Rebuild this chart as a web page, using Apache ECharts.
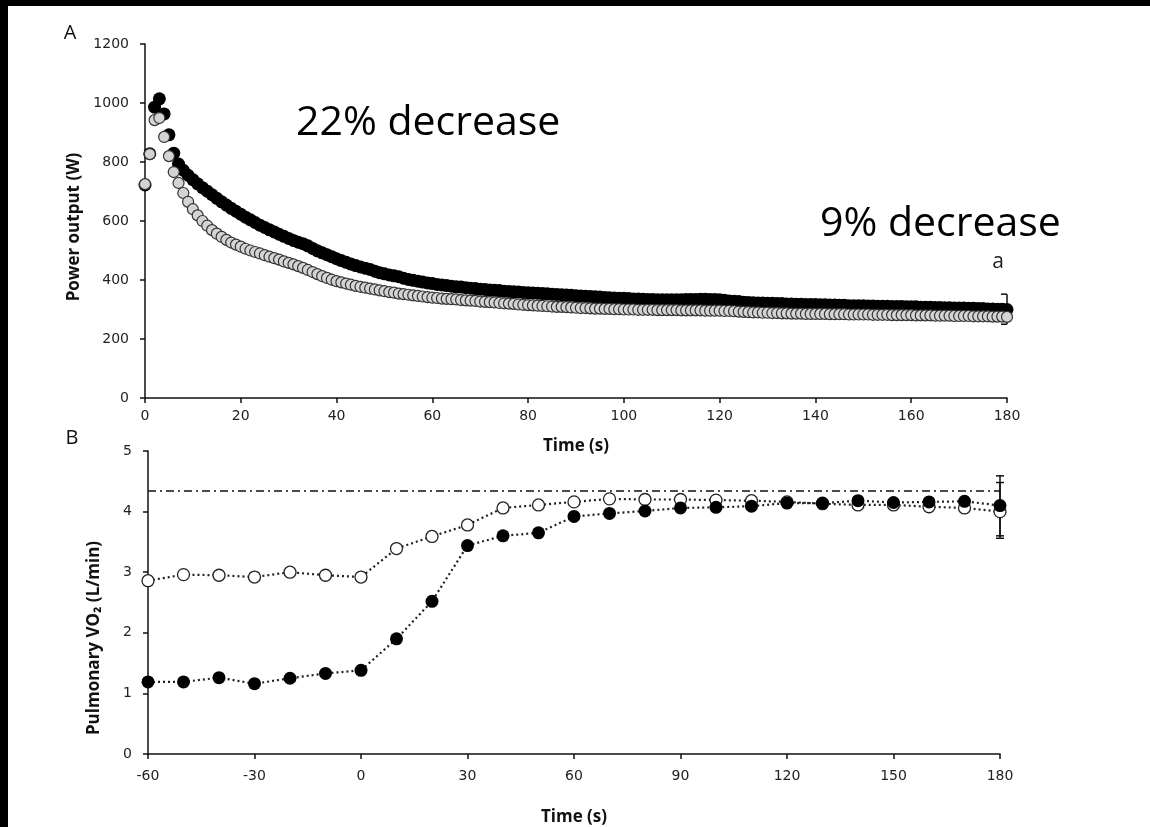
<!DOCTYPE html>
<html>
<head>
<meta charset="utf-8">
<title>Power output and pulmonary VO2</title>
<script src="https://cdn.jsdelivr.net/npm/echarts@6/dist/echarts.min.js"></script>
<style>
  html, body { margin: 0; padding: 0; background: #fff; }
  #chart { width: 1150px; height: 827px; }
</style>
</head>
<body>
<div id="chart"></div>
<script>
// ---- panel A : power output, one value per second (0 .. 180 s)
const powerBlack = [
  722, 828, 986, 1014, 963, 892, 830, 793, 772, 755,
  740, 726, 713, 701, 689, 677, 665, 654, 643, 633,
  623, 613, 604, 595, 586, 578, 570, 563, 555, 548,
  541, 534, 528, 523, 516, 507, 499, 492, 486, 479,
  472, 466, 460, 454, 449, 444, 440, 436, 430, 425,
  421, 417, 414, 411, 406, 402, 399, 396, 393, 390,
  388, 385, 383, 381, 379, 377, 376, 374, 372, 371,
  369, 368, 366, 365, 364, 362, 361, 360, 359, 358,
  357, 356, 355, 354, 353, 352, 351, 350, 349, 348,
  347, 346, 345, 344, 343, 342, 341, 340, 339, 338,
  338, 337, 336, 336, 335, 334, 334, 333, 333, 333,
  333, 333, 333, 334, 334, 334, 335, 335, 334, 334,
  333, 331, 329, 328, 327, 325, 324, 323, 322, 322,
  321, 321, 320, 320, 319, 319, 318, 318, 317, 317,
  317, 316, 316, 315, 315, 314, 314, 313, 313, 313,
  313, 312, 312, 311, 311, 311, 310, 310, 310, 309,
  309, 309, 308, 308, 308, 307, 307, 306, 306, 305,
  305, 305, 304, 304, 303, 303, 302, 302, 301, 301,
  300
]
const powerGrey = [
  725, 827, 942, 949, 885, 820, 766, 729, 695, 665,
  640, 619, 600, 584, 569, 557, 546, 536, 527, 520,
  513, 506, 500, 495, 490, 484, 479, 474, 469, 463,
  458, 453, 447, 441, 434, 427, 420, 413, 407, 401,
  396, 392, 388, 384, 380, 377, 374, 371, 368, 365,
  362, 359, 357, 354, 352, 350, 348, 346, 344, 342,
  340, 339, 337, 336, 335, 334, 332, 331, 330, 329,
  327, 326, 325, 324, 322, 321, 320, 319, 317, 316,
  315, 314, 313, 312, 311, 310, 309, 309, 308, 307,
  306, 305, 305, 304, 303, 303, 302, 302, 301, 301,
  300, 300, 300, 299, 299, 299, 299, 298, 298, 298,
  298, 298, 297, 297, 297, 297, 297, 296, 296, 296,
  296, 295, 295, 294, 293, 292, 291, 290, 290, 289,
  289, 288, 288, 287, 287, 286, 286, 286, 285, 285,
  285, 285, 285, 284, 284, 284, 284, 283, 283, 283,
  283, 283, 282, 282, 282, 282, 281, 281, 281, 281,
  281, 280, 280, 280, 280, 279, 279, 279, 279, 278,
  278, 278, 278, 277, 277, 277, 277, 276, 276, 276,
  275
]
// error bar on the last black point (x, low, high)
const powerErr = [180, 250, 352]
const powerYTicks = [0, 200, 400, 600, 800, 1000, 1200]
const powerXTicks = [0, 20, 40, 60, 80, 100, 120, 140, 160, 180]

// ---- panel B : pulmonary VO2, every 10 s
const vo2Time = [-60, -50, -40, -30, -20, -10, 0, 10, 20, 30, 40, 50, 60, 70, 80, 90, 100, 110, 120, 130, 140, 150, 160, 170, 180]
const vo2Open = [2.86, 2.96, 2.95, 2.92, 3.00, 2.95, 2.92, 3.39, 3.59, 3.78, 4.06, 4.11, 4.16, 4.21, 4.20, 4.20, 4.19, 4.18, 4.16, 4.13, 4.11, 4.11, 4.08, 4.06, 4.00]
const vo2Filled = [1.19, 1.19, 1.26, 1.16, 1.25, 1.33, 1.38, 1.90, 2.52, 3.44, 3.60, 3.65, 3.92, 3.97, 4.01, 4.06, 4.07, 4.09, 4.14, 4.14, 4.18, 4.15, 4.16, 4.17, 4.10]
const vo2Peak = 4.34
const vo2ErrFilled = [180, 3.60, 4.59]
const vo2ErrOpen = [180, 3.56, 4.48]
const vo2YTicks = [0, 1, 2, 3, 4, 5]
const vo2XTicks = [-60, -30, 0, 30, 60, 90, 120, 150, 180]

const ink = '#111'
const labelFont = { color: '#222', fontSize: 14, fontFamily: 'DejaVu Sans', formatter: v => String(v) }
const titleFont = { color: '#111', fontSize: 17, fontWeight: 'bold', fontFamily: 'Open Sans' }

let chart = echarts.init(document.getElementById('chart'))

function axisBase (ticks) {
  return {
    type: 'value',
    min: ticks[0],
    max: ticks[ticks.length - 1],
    interval: ticks[1] - ticks[0],
    axisLine: { show: true, onZero: false, lineStyle: { color: ink, width: 1.5 } },
    axisTick: { show: true, length: 5, lineStyle: { color: ink, width: 1.5 } },
    splitLine: { show: false },
    axisLabel: Object.assign({}, labelFont)
  }
}

// vertical bar with caps, drawn through the axis scale
function errorBar (capLeft, capRight) {
  return function (params, api) {
    let lo = api.coord([api.value(0), api.value(1)])
    let hi = api.coord([api.value(0), api.value(2)])
    let st = { stroke: ink, lineWidth: 1.5 }
    return {
      type: 'group',
      children: [
        { type: 'line', shape: { x1: lo[0], y1: lo[1], x2: hi[0], y2: hi[1] }, style: st },
        { type: 'line', shape: { x1: hi[0] - capLeft, y1: hi[1], x2: hi[0] + capRight, y2: hi[1] }, style: st },
        { type: 'line', shape: { x1: lo[0] - capLeft, y1: lo[1], x2: lo[0] + capRight, y2: lo[1] }, style: st }
      ]
    }
  }
}

let option = {
  backgroundColor: '#fff',
  animation: false,
  grid: [
    { left: 145, top: 44, width: 862, height: 354 },
    { left: 148, top: 451, width: 852, height: 304 }
  ],
  xAxis: [
    Object.assign(axisBase(powerXTicks), {
      gridIndex: 0,
      name: 'Time (s)',
      nameLocation: 'middle',
      nameGap: 40,
      nameTextStyle: titleFont,
      axisLabel: Object.assign({}, labelFont, { margin: 11 })
    }),
    Object.assign(axisBase(vo2XTicks), {
      gridIndex: 1,
      name: 'Time (s)',
      nameLocation: 'middle',
      nameGap: 55,
      nameTextStyle: titleFont,
      axisLabel: Object.assign({}, labelFont, { margin: 15 })
    })
  ],
  yAxis: [
    Object.assign(axisBase(powerYTicks), {
      gridIndex: 0,
      axisLabel: Object.assign({}, labelFont, { margin: 16 })
    }),
    Object.assign(axisBase(vo2YTicks), {
      gridIndex: 1,
      axisLabel: Object.assign({}, labelFont, { margin: 16 })
    })
  ],
  series: [
    {
      type: 'scatter',
      xAxisIndex: 0,
      yAxisIndex: 0,
      symbolSize: 13,
      itemStyle: { color: '#000', opacity: 1 },
      data: powerBlack.map((v, i) => [i, v])
    },
    {
      type: 'custom',
      xAxisIndex: 0,
      yAxisIndex: 0,
      renderItem: errorBar(6, 0),
      data: [powerErr],
      z: 1
    },
    {
      type: 'scatter',
      xAxisIndex: 0,
      yAxisIndex: 0,
      symbolSize: 11,
      itemStyle: { color: '#d4d4d4', borderColor: '#333', borderWidth: 1.2, opacity: 1 },
      data: powerGrey.map((v, i) => [i, v])
    },
    {
      // peak reference line
      type: 'line',
      xAxisIndex: 1,
      yAxisIndex: 1,
      symbol: 'none',
      lineStyle: { color: ink, width: 1.5, type: [8, 4, 2, 4] },
      data: [[vo2Time[0], vo2Peak], [vo2Time[vo2Time.length - 1], vo2Peak]],
      z: 1
    },
    {
      type: 'custom',
      xAxisIndex: 1,
      yAxisIndex: 1,
      renderItem: errorBar(4, 4),
      data: [vo2ErrFilled, vo2ErrOpen],
      z: 1
    },
    {
      type: 'line',
      xAxisIndex: 1,
      yAxisIndex: 1,
      symbol: 'circle',
      symbolSize: 12,
      showSymbol: true,
      lineStyle: { color: '#222', width: 2.2, type: [2, 3] },
      itemStyle: { color: '#fff', borderColor: '#222', borderWidth: 1.3 },
      data: vo2Time.map((t, i) => [t, vo2Open[i]])
    },
    {
      type: 'line',
      xAxisIndex: 1,
      yAxisIndex: 1,
      symbol: 'circle',
      symbolSize: 13,
      showSymbol: true,
      lineStyle: { color: '#222', width: 2.2, type: [2, 3] },
      itemStyle: { color: '#000', borderColor: '#000', borderWidth: 0 },
      data: vo2Time.map((t, i) => [t, vo2Filled[i]])
    }
  ],
  graphic: [
    // black frame strips of the original scan
    { type: 'rect', left: 0, top: 0, shape: { width: 1150, height: 6 }, style: { fill: '#000' } },
    { type: 'rect', left: 0, top: 0, shape: { width: 8, height: 827 }, style: { fill: '#000' } },
    { type: 'text', x: 70, y: 33, style: { text: 'A', fill: '#111', font: '20px "Open Sans"', align: 'center', verticalAlign: 'middle' } },
    { type: 'text', x: 72, y: 438, style: { text: 'B', fill: '#111', font: '20px "Open Sans"', align: 'center', verticalAlign: 'middle' } },
    { type: 'text', x: 74, y: 227, rotation: Math.PI / 2, style: { text: 'Power output (W)', fill: '#111', font: 'bold 17px "Open Sans"', align: 'center', verticalAlign: 'middle' } },
    { type: 'text', x: 94, y: 638, rotation: Math.PI / 2, style: { text: 'Pulmonary VO₂ (L/min)', fill: '#111', font: 'bold 17px "Open Sans"', align: 'center', verticalAlign: 'middle' } },
    { type: 'text', x: 296, y: 123, style: { text: '22% decrease', fill: '#000', font: '41px "Open Sans"', align: 'left', verticalAlign: 'middle' } },
    { type: 'text', x: 820, y: 224, style: { text: '9% decrease', fill: '#000', font: '41px "Open Sans"', align: 'left', verticalAlign: 'middle' } },
    { type: 'text', x: 998, y: 262, style: { text: 'a', fill: '#222', font: '21px "Open Sans"', align: 'center', verticalAlign: 'middle' } }
  ]
}
chart.setOption(option)
window.addEventListener('resize', function () { chart.resize() })
</script>
</body>
</html>
